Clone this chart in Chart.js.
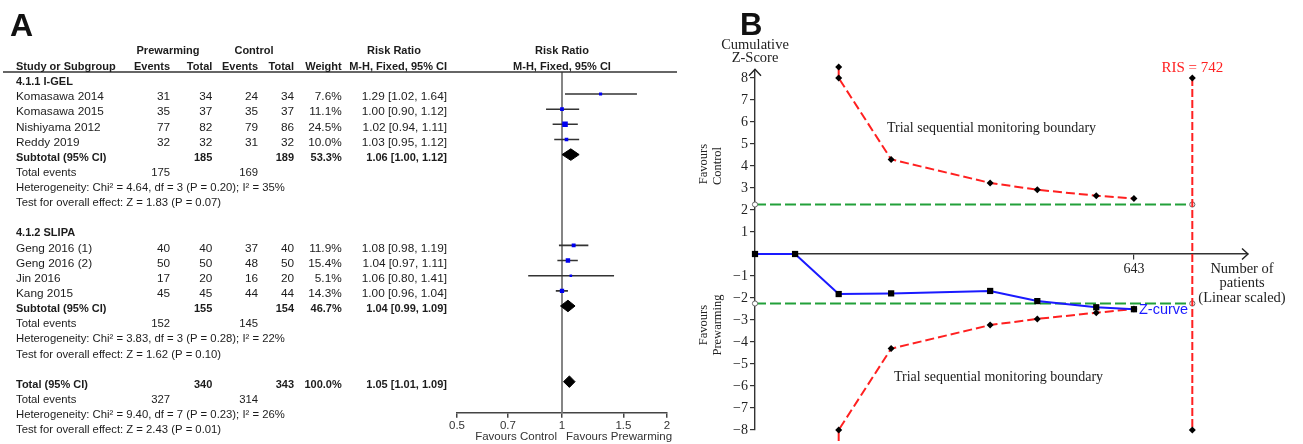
<!DOCTYPE html>
<html><head><meta charset="utf-8">
<script src="https://cdn.jsdelivr.net/npm/chart.js@4.4.0/dist/chart.umd.min.js"></script>
<style>
html,body{margin:0;padding:0;background:#fff;overflow:hidden;}
#wrap{position:relative;width:1303px;height:444px;background:#fff;}
#forest{position:absolute;left:0;top:0;}
#tsa{position:absolute;left:690px;top:0;}
</style></head><body>
<div id="wrap"><canvas id="forest" width="690" height="444"></canvas><canvas id="tsa" width="613" height="444"></canvas></div>
<script>
// ---------- Panel A data (forest plot) ----------
const groupNames = ["4.1.1 I-GEL", "4.1.2 SLIPA"];
const studyNames = ["Komasawa 2014","Komasawa 2015","Nishiyama 2012","Reddy 2019","Geng 2016 (1)","Geng 2016 (2)","Jin 2016","Kang 2015"];
const studyGroup = [0,0,0,0,1,1,1,1];
const prewarmEvents = [31,35,77,32,40,50,17,45];
const prewarmTotal  = [34,37,82,32,40,50,20,45];
const controlEvents = [24,35,79,31,37,48,16,44];
const controlTotal  = [34,37,86,32,40,50,20,44];
const studyWeight   = [7.6,11.1,24.5,10.0,11.9,15.4,5.1,14.3];
const studyRR       = [1.29,1.00,1.02,1.03,1.08,1.04,1.06,1.00];
const studyLow      = [1.02,0.90,0.94,0.95,0.98,0.97,0.80,0.96];
const studyHigh     = [1.64,1.12,1.11,1.12,1.19,1.11,1.41,1.04];
const pooledLabels  = ["Subtotal (95% CI)","Subtotal (95% CI)","Total (95% CI)"];
const pooledPrewarmTotal  = [185,155,340];
const pooledControlTotal  = [189,154,343];
const pooledWeight  = [53.3,46.7,100.0];
const pooledRR      = [1.06,1.04,1.05];
const pooledLow     = [1.00,0.99,1.01];
const pooledHigh    = [1.12,1.09,1.09];
const pooledPrewarmEvents = [175,152,327];
const pooledControlEvents = [169,145,314];
const heterogeneityText = [
  "Heterogeneity: Chi\u00b2 = 4.64, df = 3 (P = 0.20); I\u00b2 = 35%",
  "Heterogeneity: Chi\u00b2 = 3.83, df = 3 (P = 0.28); I\u00b2 = 22%",
  "Heterogeneity: Chi\u00b2 = 9.40, df = 7 (P = 0.23); I\u00b2 = 26%"];
const overallEffectText = [
  "Test for overall effect: Z = 1.83 (P = 0.07)",
  "Test for overall effect: Z = 1.62 (P = 0.10)",
  "Test for overall effect: Z = 2.43 (P = 0.01)"];
const forestTicks = [0.5, 0.7, 1, 1.5, 2];

// ---------- Panel B data (trial sequential analysis) ----------
const zPatients = [0, 68, 142, 231, 399, 479, 579, 643];
const zScores   = [0, 0, -1.82, -1.79, -1.68, -2.14, -2.42, -2.51];
const boundaryPatients = [142, 142, 231, 399, 479, 579, 643];
const upperBoundary = [8.5, 8.0, 4.3, 3.23, 2.92, 2.65, 2.52];
const lowerBoundary = [-8.5, -8.0, -4.3, -3.23, -2.95, -2.67, -2.5];
const conventionalZ = 2.25;
const requiredInfoSize = 742;
const zTicks = [-8,-7,-6,-5,-4,-3,-2,-1,1,2,3,4,5,6,7,8];
const patientTicks = [643];

const SANS = '"Liberation Sans", Arial, sans-serif';
const SERIF = '"Liberation Serif", "Times New Roman", serif';
const INK = '#1c1c1c';

// ---------- row layout for forest plot ----------
const groupStart = [0, 10];
const studyRow = studyGroup.map((g, i) => groupStart[g] + 1 + studyGroup.slice(0, i).filter(v => v === g).length);
const pooledRow = groupStart.map((s, g) => s + 1 + studyGroup.filter(v => v === g).length);
pooledRow.push(pooledRow[pooledRow.length - 1] + 5);

const ciDatasets = studyNames.map((n, i) => ({
  data: [{x: studyLow[i], y: studyRow[i]}, {x: studyHigh[i], y: studyRow[i]}],
  showLine: true, borderColor: '#333', borderWidth: 1.6, pointRadius: 0
}));
const squareDataset = {
  data: studyNames.map((n, i) => ({x: studyRR[i], y: studyRow[i]})),
  showLine: false, pointStyle: 'rect',
  pointRadius: c => Math.sqrt(studyWeight[c.dataIndex]) * 0.8,
  backgroundColor: '#0000f0', borderColor: '#0000f0', borderWidth: 0
};
const DH = 0.38;
const diamondDatasets = pooledLabels.map((l, k) => {
  const r = pooledRow[k];
  return {
    data: [{x: pooledLow[k], y: r}, {x: pooledRR[k], y: r - DH}, {x: pooledHigh[k], y: r}, {x: pooledRR[k], y: r + DH}, {x: pooledLow[k], y: r}],
    showLine: true, fill: 'shape', backgroundColor: '#000', borderColor: '#000', borderWidth: 1, pointRadius: 0, tension: 0
  };
});

function txt(ctx, s, x, y, align, font, color) {
  ctx.font = font; ctx.textAlign = align; ctx.textBaseline = 'middle';
  ctx.fillStyle = color || INK; ctx.fillText(s, x, y);
}

const forestPlugin = {
  id: 'forestTable',
  beforeDatasetsDraw(chart) {
    const {ctx, chartArea, scales: {x}} = chart;
    const px = x.getPixelForValue(1);
    ctx.save();
    ctx.strokeStyle = '#858585'; ctx.lineWidth = 2;
    ctx.beginPath(); ctx.moveTo(px, chartArea.top); ctx.lineTo(px, chartArea.bottom); ctx.stroke();
    ctx.restore();
  },
  afterDraw(chart) {
    const {ctx, chartArea, scales: {x, y}} = chart;
    ctx.save();
    // header line
    ctx.strokeStyle = '#333'; ctx.lineWidth = 1.5;
    ctx.beginPath(); ctx.moveTo(3, chartArea.top); ctx.lineTo(677, chartArea.top); ctx.stroke();
    // panel letter
    ctx.font = 'bold 32px ' + SANS; ctx.fillStyle = '#111'; ctx.textAlign = 'left'; ctx.textBaseline = 'alphabetic';
    ctx.fillText('A', 10, 36);
    const C = {name: 16, pe: 170, pt: 212.3, ce: 258, ct: 294, w: 341.7, ci: 447};
    const B = 'bold 11px ' + SANS, N = '11.8px ' + SANS, S = '11.3px ' + SANS;
    const plotMid = (chartArea.left + chartArea.right) / 2;
    const h1 = chartArea.top - 21, h2 = chartArea.top - 5.5;
    txt(ctx, 'Prewarming', 168, h1, 'center', B);
    txt(ctx, 'Control', 254, h1, 'center', B);
    txt(ctx, 'Risk Ratio', 394, h1, 'center', B);
    txt(ctx, 'Risk Ratio', plotMid, h1, 'center', B);
    txt(ctx, 'Study or Subgroup', C.name, h2, 'left', B);
    txt(ctx, 'Events', C.pe, h2, 'right', B);
    txt(ctx, 'Total', C.pt, h2, 'right', B);
    txt(ctx, 'Events', C.ce, h2, 'right', B);
    txt(ctx, 'Total', C.ct, h2, 'right', B);
    txt(ctx, 'Weight', C.w, h2, 'right', B);
    txt(ctx, 'M-H, Fixed, 95% CI', C.ci, h2, 'right', B);
    txt(ctx, 'M-H, Fixed, 95% CI', plotMid, h2, 'center', B);
    const ry = r => y.getPixelForValue(r) + 3;
    const ci = (e, l, h) => e.toFixed(2) + ' [' + l.toFixed(2) + ', ' + h.toFixed(2) + ']';
    groupNames.forEach((g, k) => txt(ctx, g, C.name, ry(groupStart[k]), 'left', B));
    studyNames.forEach((n, i) => {
      const yy = ry(studyRow[i]);
      txt(ctx, n, C.name, yy, 'left', N);
      txt(ctx, String(prewarmEvents[i]), C.pe, yy, 'right', N);
      txt(ctx, String(prewarmTotal[i]), C.pt, yy, 'right', N);
      txt(ctx, String(controlEvents[i]), C.ce, yy, 'right', N);
      txt(ctx, String(controlTotal[i]), C.ct, yy, 'right', N);
      txt(ctx, studyWeight[i].toFixed(1) + '%', C.w, yy, 'right', N);
      txt(ctx, ci(studyRR[i], studyLow[i], studyHigh[i]), C.ci, yy, 'right', N);
    });
    pooledLabels.forEach((l, k) => {
      const r = pooledRow[k];
      const yy = ry(r);
      txt(ctx, l, C.name, yy, 'left', B);
      txt(ctx, String(pooledPrewarmTotal[k]), C.pt, yy, 'right', B);
      txt(ctx, String(pooledControlTotal[k]), C.ct, yy, 'right', B);
      txt(ctx, pooledWeight[k].toFixed(1) + '%', C.w, yy, 'right', B);
      txt(ctx, ci(pooledRR[k], pooledLow[k], pooledHigh[k]), C.ci, yy, 'right', B);
      txt(ctx, 'Total events', C.name, ry(r + 1), 'left', S);
      txt(ctx, String(pooledPrewarmEvents[k]), C.pe, ry(r + 1), 'right', S);
      txt(ctx, String(pooledControlEvents[k]), C.ce, ry(r + 1), 'right', S);
      txt(ctx, heterogeneityText[k], C.name, ry(r + 2), 'left', S);
      txt(ctx, overallEffectText[k], C.name, ry(r + 3), 'left', S);
    });
    // axis captions
    const p1 = x.getPixelForValue(1);
    txt(ctx, 'Favours Control', p1 - 5, 437, 'right', '11.5px ' + SANS, '#333');
    txt(ctx, 'Favours Prewarming', p1 + 4, 437, 'left', '11.5px ' + SANS, '#333');
    ctx.restore();
  }
};

new Chart(document.getElementById('forest'), {
  type: 'scatter',
  data: {datasets: [squareDataset, ...diamondDatasets, ...ciDatasets]},
  options: {
    responsive: false, animation: false, devicePixelRatio: 1,
    layout: {padding: {left: 457, right: 23, top: 72, bottom: 0}},
    plugins: {legend: {display: false}, tooltip: {enabled: false}},
    scales: {
      x: {
        type: 'logarithmic', min: 0.5, max: 2, position: 'bottom',
        afterBuildTicks: s => { s.ticks = forestTicks.map(v => ({value: v})); },
        afterFit: s => { s.height = 31.3; },
        ticks: {autoSkip: false, maxRotation: 0, padding: 1, color: '#333', font: {family: SANS, size: 11.5}, callback: v => String(v)},
        grid: {drawOnChartArea: false, drawTicks: true, tickLength: 5, color: '#444', lineWidth: 1.5},
        border: {display: true, color: '#444', width: 1.5}
      },
      y: {type: 'linear', reverse: true, min: -0.456, max: 22.05, display: false}
    }
  },
  plugins: [forestPlugin]
});

// ---------- Panel B ----------
const RED = '#ff2020', GREEN = '#22a03a', BLUE = '#1a1aff';
const tsaPlugin = {
  id: 'tsaText',
  afterDraw(chart) {
    const {ctx, chartArea, scales: {x, y}} = chart;
    ctx.save();
    const x0 = x.getPixelForValue(0), y0 = y.getPixelForValue(0);
    // arrow heads
    ctx.strokeStyle = '#222'; ctx.lineWidth = 1.4;
    ctx.beginPath(); ctx.moveTo(x0 - 6, chartArea.top + 6.5); ctx.lineTo(x0, chartArea.top); ctx.lineTo(x0 + 6, chartArea.top + 6.5); ctx.stroke();
    ctx.beginPath(); ctx.moveTo(chartArea.right - 6, y0 - 5.5); ctx.lineTo(chartArea.right, y0); ctx.lineTo(chartArea.right - 6, y0 + 5.5); ctx.stroke();
    // panel letter
    ctx.font = 'bold 31px ' + SANS; ctx.fillStyle = '#111'; ctx.textAlign = 'left'; ctx.textBaseline = 'alphabetic';
    ctx.fillText('B', 50, 35);
    const F = '14.5px ' + SERIF;
    txt(ctx, 'Cumulative', x0, 45, 'center', F, '#222');
    txt(ctx, 'Z-Score', x0, 58.5, 'center', F, '#222');
    // RIS label
    const xr = x.getPixelForValue(requiredInfoSize);
    txt(ctx, 'RIS = ' + requiredInfoSize, xr, 68, 'center', '15px ' + SERIF, RED);
    // x-axis title
    const xt = chartArea.right - 6;
    txt(ctx, 'Number of', xt, 269, 'center', F, '#222');
    txt(ctx, 'patients', xt, 283.5, 'center', F, '#222');
    txt(ctx, '(Linear scaled)', xt, 298, 'center', F, '#222');
    // z-curve label
    const last = zPatients.length - 1;
    txt(ctx, 'Z-curve', x.getPixelForValue(zPatients[last]) + 5, y.getPixelForValue(zScores[last]) + 1, 'left', '14.5px ' + SANS, BLUE);
    // boundary labels
    txt(ctx, 'Trial sequential monitoring boundary', 197, 128.5, 'left', '14px ' + SERIF, '#222');
    txt(ctx, 'Trial sequential monitoring boundary', 204, 377, 'left', '14px ' + SERIF, '#222');
    // rotated side labels
    const rot = (s, cx, cy) => { ctx.save(); ctx.translate(cx, cy); ctx.rotate(-Math.PI / 2); txt(ctx, s, 0, 0, 'center', '12.5px ' + SERIF, '#222'); ctx.restore(); };
    rot('Favours', 14, 164); rot('Control', 27.5, 166);
    rot('Favours', 14, 325); rot('Prewarming', 27.5, 325);
    ctx.restore();
  }
};

const diamondPts = {pointStyle: 'rectRot', pointRadius: 3.5, pointBackgroundColor: '#000', pointBorderColor: '#000', pointBorderWidth: 0};
new Chart(document.getElementById('tsa'), {
  type: 'scatter',
  data: {datasets: [
    {data: zPatients.map((p, i) => ({x: p, y: zScores[i]})), showLine: true, borderColor: BLUE, borderWidth: 2,
     pointStyle: 'rect', pointRadius: 4.4, pointBackgroundColor: '#000', pointBorderColor: '#000', pointBorderWidth: 0},
    {data: boundaryPatients.map((p, i) => ({x: p, y: upperBoundary[i]})), showLine: true, borderColor: RED, borderWidth: 2, borderDash: [9, 4], ...diamondPts},
    {data: boundaryPatients.map((p, i) => ({x: p, y: lowerBoundary[i]})), showLine: true, borderColor: RED, borderWidth: 2, borderDash: [9, 4], ...diamondPts},
    {data: [{x: requiredInfoSize, y: 8}, {x: requiredInfoSize, y: -8}], showLine: true, borderColor: RED, borderWidth: 2, borderDash: [8, 3], ...diamondPts},
    {data: [{x: 0, y: conventionalZ}, {x: requiredInfoSize, y: conventionalZ}], showLine: true, borderColor: GREEN, borderWidth: 2, borderDash: [11, 4],
     pointRadius: 2.6, pointBackgroundColor: '#fff', pointBorderColor: '#666', pointBorderWidth: 1},
    {data: [{x: 0, y: -conventionalZ}, {x: requiredInfoSize, y: -conventionalZ}], showLine: true, borderColor: GREEN, borderWidth: 2, borderDash: [11, 4],
     pointRadius: 2.6, pointBackgroundColor: '#fff', pointBorderColor: '#666', pointBorderWidth: 1}
  ]},
  options: {
    responsive: false, animation: false, devicePixelRatio: 1,
    datasets: {scatter: {clip: false}},
    layout: {padding: {left: 0, right: 55, top: 69.2, bottom: 14}},
    plugins: {legend: {display: false}, tooltip: {enabled: false}},
    scales: {
      x: {
        type: 'linear', min: 0, max: 836.5, position: {y: 0},
        afterBuildTicks: s => { s.ticks = patientTicks.map(v => ({value: v})); },
        ticks: {autoSkip: false, maxRotation: 0, padding: 2, color: '#222', font: {family: SERIF, size: 14}},
        grid: {drawOnChartArea: false, drawTicks: true, tickLength: 5, color: '#333', lineWidth: 1.2},
        border: {display: true, color: '#333', width: 1.5}
      },
      y: {
        type: 'linear', min: -8, max: 8.4, position: 'left',
        afterBuildTicks: s => { s.ticks = zTicks.map(v => ({value: v})); },
        afterFit: s => { s.width = 65; },
        ticks: {autoSkip: false, padding: 2, color: '#222', font: {family: SERIF, size: 14},
                callback: v => v < 0 ? '\u2212' + Math.abs(v) : String(v)},
        grid: {drawOnChartArea: false, drawTicks: true, tickLength: 5, color: '#333', lineWidth: 1.2},
        border: {display: true, color: '#333', width: 1.4}
      }
    }
  },
  plugins: [tsaPlugin]
});
</script></body></html>
